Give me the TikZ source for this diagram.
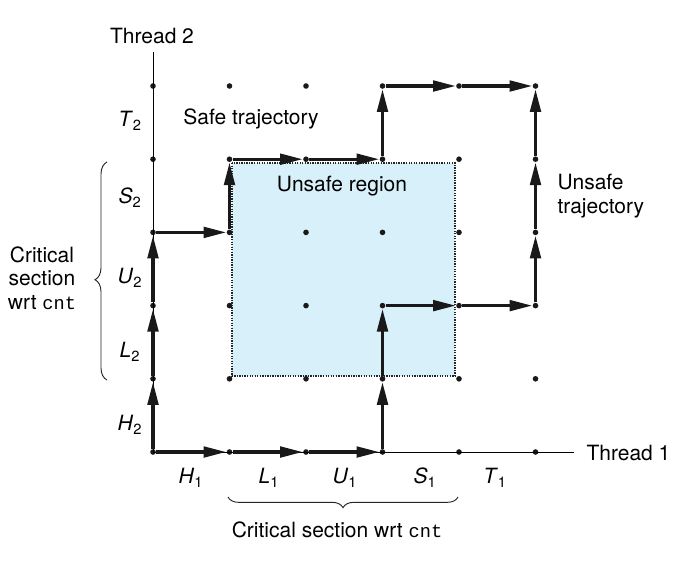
\documentclass[tikz,border=0pt]{standalone}
\usepackage{fontspec}
\setmainfont{TeX Gyre Heros}
\setmonofont{Liberation Mono}
\usetikzlibrary{arrows.meta,decorations.pathreplacing}

\definecolor{unsafeblue}{RGB}{216,240,250}
\tikzset{every picture/.style={line width=0.75pt}}
\tikzset{
  gridpt/.style={circle,fill=black!90,inner sep=0pt,minimum size=4.2pt},
  traj/.style={line width=2.3pt,black!90,-{Triangle[length=17pt,width=8pt]}},
  lbl/.style={inner sep=0.75pt,font=\fontsize{15.75pt}{17.6pt}\selectfont},
  bracelines/.style={decorate,black!85,line width=0.7pt}
}
\newcommand{\opname}[2]{\textit{#1}\textsubscript{#2}}
\newcommand{\codetext}[1]{{\fontsize{14pt}{14pt}\selectfont\ttfamily #1}}

\begin{document}
\begin{tikzpicture}[x=0.75pt,y=0.75pt,yscale=-1,xscale=1]
\useasboundingbox (0,0) rectangle (680,572);

%Unsafe region
\fill[unsafeblue] (232,163) rectangle (455,376);
\draw[black!85,line width=1pt,dash pattern={on 1pt off 0.9pt}] (232,163) rectangle (455,376);

%Grid points
\foreach \i in {0,...,5}
  \foreach \j in {0,...,5}
    \node[gridpt] (p\i\j) at ({153+76.5*\i},{452-73.2*\j}) {};

%Axes
\coordinate (xend) at (574,452);
\coordinate (yend) at (153,52);
\draw (p00.center) -- (xend);
\draw (p00.center) -- (yend);

%Safe trajectory
\draw[traj] (p00) -- (p01);
\draw[traj] (p01) -- (p02);
\draw[traj] (p02) -- (p03);
\draw[traj] (p03) -- (p13);
\draw[traj] (p13) -- (p14);
\draw[traj] (p14) -- (p24);
\draw[traj] (p24) -- (p34);
\draw[traj] (p34) -- (p35);
\draw[traj] (p35) -- (p45);
\draw[traj] (p45) -- (p55);

%Unsafe trajectory
\draw[traj] (p00) -- (p10);
\draw[traj] (p10) -- (p20);
\draw[traj] (p20) -- (p30);
\draw[traj] (p30) -- (p31);
\draw[traj] (p31) -- (p32);
\draw[traj] (p32) -- (p42);
\draw[traj] (p42) -- (p52);
\draw[traj] (p52) -- (p53);
\draw[traj] (p53) -- (p54);
\draw[traj] (p54) -- (p55);

%Braces
\draw[bracelines,decoration={brace,amplitude=9pt,aspect=0.46}] (107,380) -- (107,162);
\draw[bracelines,decoration={brace,amplitude=8pt,mirror}] (228,497) -- (458,497);

% Text Node
\node[lbl] (thread2) at (152,36) {Thread 2};
% Text Node
\node[lbl,anchor=west] (thread1) at (585,453) {Thread 1};
% Text Node
\node[lbl] (safelbl) at (251,119) {Safe trajectory};
% Text Node
\node[lbl] (regionlbl) at (342,186) {Unsafe region};
% Text Node
\node[lbl,anchor=west,align=left] (unsafelbl) at (556,196) {Unsafe\\trajectory};
% Text Node
\node[lbl,align=center] (crit2) at (42,278) {Critical\\section\\wrt \codetext{cnt}};
% Text Node
\node[lbl] (crit1) at (337,530) {Critical section wrt \codetext{cnt}};

% Thread 2 steps
\node[lbl] (t2) at (130,121) {\opname{T}{2}};
\node[lbl] (s2) at (130,198) {\opname{S}{2}};
\node[lbl] (u2) at (130,278) {\opname{U}{2}};
\node[lbl] (l2) at (130,352) {\opname{L}{2}};
\node[lbl] (h2) at (130,425) {\opname{H}{2}};
% Thread 1 steps
\node[lbl] (h1) at (191,478) {\opname{H}{1}};
\node[lbl] (l1) at (269,478) {\opname{L}{1}};
\node[lbl] (u1) at (345,478) {\opname{U}{1}};
\node[lbl] (s1) at (425,478) {\opname{S}{1}};
\node[lbl] (t1) at (495,478) {\opname{T}{1}};

\end{tikzpicture}
\end{document}
